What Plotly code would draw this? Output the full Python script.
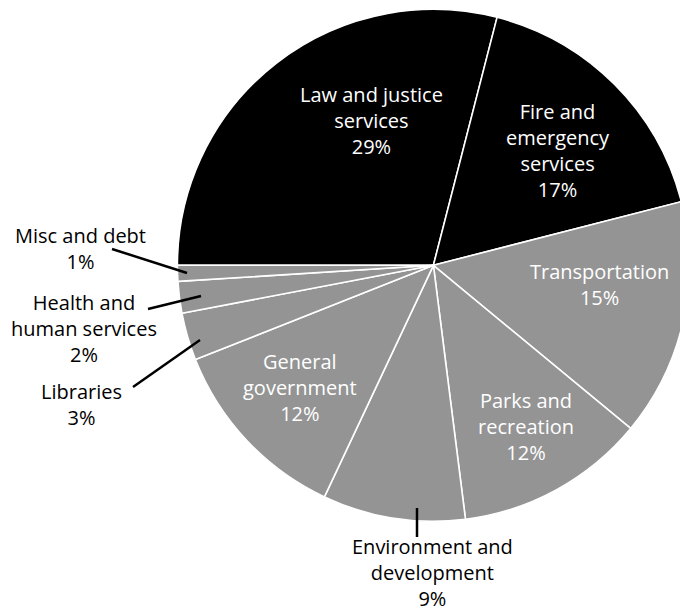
import plotly.graph_objects as go

# Budget shares by service area, in drawing order (clockwise from 9 o'clock)
categories = [
    "Law and justice services",
    "Fire and emergency services",
    "Transportation",
    "Parks and recreation",
    "Environment and development",
    "General government",
    "Libraries",
    "Health and human services",
    "Misc and debt",
]
label_lines = [
    ["Law and justice", "services"],
    ["Fire and", "emergency", "services"],
    ["Transportation"],
    ["Parks and", "recreation"],
    ["Environment and", "development"],
    ["General", "government"],
    ["Libraries"],
    ["Health and", "human services"],
    ["Misc and debt"],
]
shares = [29, 17, 15, 12, 9, 12, 3, 2, 1]

BLACK = "#000000"
GRAY = "#949494"
slice_colors = [BLACK, BLACK, GRAY, GRAY, GRAY, GRAY, GRAY, GRAY, GRAY]
text_colors = ["white", "white", "white", "white", "black", "white", "black", "black", "black"]

# Canvas is a bit wider than the viewport so the pie runs off the right edge
W, H = 700, 614
CX, CY, R = 433.4, 265.3, 256.0

# Label block centres (pixels) and leader lines for the outside labels
label_pos = [
    (371, 121), (558, 150), (599, 284), (526, 426), (432, 572),
    (300, 388), (81, 404), (84, 328), (80, 249),
]
leaders = {
    4: ((417, 508), (417, 537)),
    6: ((133, 387), (200, 340)),
    7: ((148, 309), (201, 296)),
    8: ((112, 249), (187, 273)),
}

FONT = "Open Sans"
FONT_SIZE = 20


def fx(x):
    return x / W


def fy(y):
    return 1 - y / H


total = sum(shares)

fig = go.Figure(
    go.Pie(
        labels=categories,
        values=shares,
        sort=False,
        direction="clockwise",
        rotation=270,
        marker=dict(colors=slice_colors, line=dict(color="white", width=1.6)),
        textinfo="none",
        hoverinfo="label+percent",
        showlegend=False,
        domain=dict(x=[fx(CX - R), fx(CX + R)], y=[fy(CY + R), fy(CY - R)]),
    )
)

annotations = []
for i, (lines, v) in enumerate(zip(label_lines, shares)):
    pct = f"{v / total * 100:.0f}%"
    x, y = label_pos[i]
    annotations.append(
        dict(
            x=fx(x), y=fy(y), xref="paper", yref="paper",
            text="<br>".join(lines + [pct]),
            showarrow=False, xanchor="center", yanchor="middle", align="center",
            font=dict(family=FONT, size=FONT_SIZE, color=text_colors[i]),
        )
    )

shapes = []
for i, ((x0, y0), (x1, y1)) in leaders.items():
    shapes.append(
        dict(
            type="line", xref="paper", yref="paper",
            x0=fx(x0), y0=fy(y0), x1=fx(x1), y1=fy(y1),
            line=dict(color="black", width=2.5),
        )
    )

fig.update_layout(
    width=W, height=H,
    margin=dict(l=0, r=0, t=0, b=0),
    paper_bgcolor="white", plot_bgcolor="white",
    annotations=annotations, shapes=shapes,
)

fig.write_html(
    "out.html",
    config={"displayModeBar": False},
    post_script=(
        "document.documentElement.style.overflow='hidden';"
        "document.body.style.overflow='hidden';"
        "document.body.style.margin='0';"
    ),
)
